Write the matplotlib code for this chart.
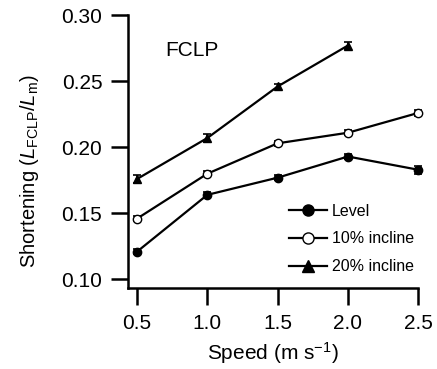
import numpy as np
import matplotlib
matplotlib.use("Agg")
import matplotlib.pyplot as plt
from matplotlib.lines import Line2D

plt.rcParams['font.family'] = ['Liberation Sans', 'DejaVu Sans']
plt.rcParams['mathtext.fontset'] = 'custom'
plt.rcParams['mathtext.rm'] = 'Liberation Sans'
plt.rcParams['mathtext.it'] = 'Liberation Sans:italic'

# data
speed = [0.5, 1.0, 1.5, 2.0, 2.5]
level = [0.121, 0.164, 0.177, 0.193, 0.183]
level_err = [0.002, 0.002, 0.002, 0.002, 0.003]
incl10 = [0.146, 0.180, 0.203, 0.211, 0.226]
incl10_err = [0.002, 0.002, 0.002, 0.002, 0.002]
speed20 = [0.5, 1.0, 1.5, 2.0]
incl20 = [0.176, 0.207, 0.246, 0.277]
incl20_err = [0.003, 0.003, 0.002, 0.003]

fig = plt.figure(figsize=(4.37, 3.69), dpi=100)
ax = fig.add_axes([0.293, 0.2195, 0.664, 0.7395])

kw = dict(color='black', lw=1.6, ms=6, capsize=3, elinewidth=1.2, capthick=1.2, clip_on=False)
ax.errorbar(speed, level, yerr=level_err, marker='o', mfc='black', **kw)
ax.errorbar(speed, incl10, yerr=incl10_err, marker='o', mfc='white', **kw)
ax.errorbar(speed20, incl20, yerr=incl20_err, marker='^', mfc='black', **kw)

ax.set_xlim(0.436, 2.5)
ax.set_ylim(0.0935, 0.30)
ax.set_xticks(speed)
ax.set_xticklabels(['0.5', '1.0', '1.5', '2.0', '2.5'])
ax.set_yticks([0.10, 0.15, 0.20, 0.25, 0.30])
ax.set_yticklabels(['0.10', '0.15', '0.20', '0.25', '0.30'])

for s in ['top', 'right']:
    ax.spines[s].set_visible(False)
for s in ['left', 'bottom']:
    ax.spines[s].set_linewidth(1.8)
ax.tick_params(axis='both', direction='out', length=12.5, width=1.8, labelsize=15, pad=6)

ax.set_xlabel('Speed (m s$^{-1}$)', fontsize=15, labelpad=5)
ax.set_ylabel('Shortening ($L_{\\rm FCLP}/L_{\\rm m}$)', fontsize=14.5)
ax.yaxis.set_label_coords(-0.30, 0.43)

ax.text(0.7, 0.2735, 'FCLP', fontsize=15, va='center', ha='left')

handles = [
    Line2D([], [], color='black', lw=1.6, marker='o', ms=8, mfc='black', mew=1.0),
    Line2D([], [], color='black', lw=1.6, marker='o', ms=8, mfc='white', mew=1.0),
    Line2D([], [], color='black', lw=1.6, marker='^', ms=8, mfc='black', mew=1.0),
]
labels = ['Level', '10% incline', '20% incline']
ax.legend(handles, labels, loc='center left', bbox_to_anchor=(0.555, 0.18),
          frameon=False, fontsize=11.5, handlelength=2.4, handletextpad=0.3,
          labelspacing=0.8, borderpad=0, borderaxespad=0)

fig.savefig('out.png', dpi=100)
